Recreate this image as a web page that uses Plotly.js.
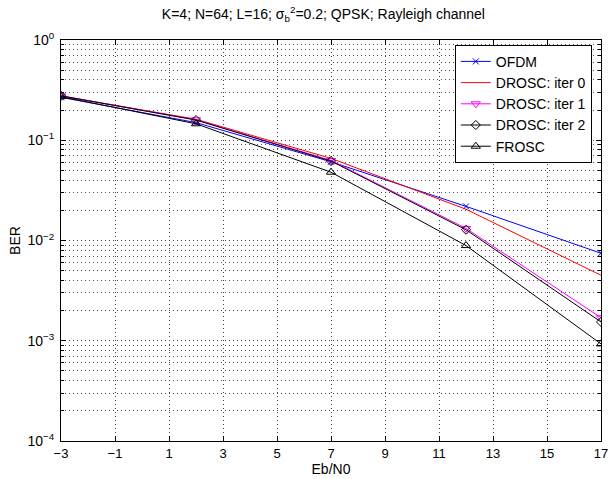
<!DOCTYPE html>
<html><head><meta charset="utf-8">
<script src="https://cdn.plot.ly/plotly-3.0.1.min.js"></script>
<style>html,body{margin:0;padding:0;background:#fff}#g{width:616px;height:479px}</style>
</head><body><div id="g"></div>
<script>
const ebn0 = [-3, 2, 7, 12, 17];
const ofdm = [0.268, 0.150, 0.061, 0.0219, 0.00746];
const iter0 = [0.277, 0.162, 0.066, 0.0205, 0.0045];
const iter1 = [0.277, 0.160, 0.063, 0.0132, 0.0017];
const iter2 = [0.277, 0.159, 0.062, 0.0128, 0.00154];
const frosc = [0.272, 0.146, 0.048, 0.0089, 0.00093];
const yTickVals = [1e-4, 1e-3, 1e-2, 1e-1, 1];
const yTickText = ['10<sup>−4</sup>', '10<sup>−3</sup>', '10<sup>−2</sup>', '10<sup>−1</sup>', '10<sup>0</sup>'];
const xTickVals = [-3, -1, 1, 3, 5, 7, 9, 11, 13, 15, 17];
const xTickText = ['−3', '−1', '1', '3', '5', '7', '9', '11', '13', '15', '17'];

const traces = [
  {x: ebn0, y: ofdm, name: 'OFDM', mode: 'lines+markers',
   line: {color: '#0000ff', width: 1},
   marker: {symbol: 'x-thin-open', size: 6, line: {color: '#0000ff', width: 1}}},
  {x: ebn0, y: iter0, name: 'DROSC: iter 0', mode: 'lines',
   line: {color: '#ff0000', width: 1}},
  {x: ebn0, y: iter1, name: 'DROSC: iter 1', mode: 'lines+markers',
   line: {color: '#ff00ff', width: 1},
   marker: {symbol: 'triangle-down-open', size: 8, color: '#ff00ff', line: {color: '#ff00ff', width: 1}}},
  {x: ebn0, y: iter2, name: 'DROSC: iter 2', mode: 'lines+markers',
   line: {color: '#000000', width: 1},
   marker: {symbol: 'diamond-open', size: 7, color: '#000000', line: {color: '#000000', width: 1}}},
  {x: ebn0, y: frosc, name: 'FROSC', mode: 'lines+markers',
   line: {color: '#000000', width: 1},
   marker: {symbol: 'triangle-up-open', size: 8, color: '#000000', line: {color: '#000000', width: 1}}}
];

const gridDash = '1px,3px';
const font = {family: 'Liberation Sans, Arial, sans-serif', size: 14, color: '#000'};
const layout = {
  width: 616, height: 479,
  margin: {l: 61, r: 15, t: 40, b: 38, pad: 0},
  paper_bgcolor: '#fff', plot_bgcolor: '#fff',
  font: font,
  showlegend: true,
  title: {text: 'K=4; N=64; L=16; σ<sub>b</sub><sup>2</sup>=0.2; QPSK; Rayleigh channel',
          font: {family: font.family, size: 14, color: '#000'}, x: 0.525, xanchor: 'center', y: 0.97, yanchor: 'middle'},
  xaxis: {
    range: [-3, 17], tickvals: xTickVals, ticktext: xTickText,
    ticks: 'inside', ticklen: 5, tickcolor: '#000', mirror: 'ticks',
    showline: true, linecolor: '#000', linewidth: 1,
    showgrid: true, gridcolor: '#444', griddash: gridDash, gridwidth: 1,
    zeroline: false, tickfont: {size: 13}, ticklabelstandoff: 0,
    title: {text: 'Eb/N0', font: {size: 14}, standoff: 1}
  },
  yaxis: {
    type: 'log', range: [-4, 0], tickvals: yTickVals, ticktext: yTickText,
    ticks: 'inside', ticklen: 5, tickcolor: '#000', mirror: 'ticks',
    showline: true, linecolor: '#000', linewidth: 1,
    showgrid: true, gridcolor: '#444', griddash: gridDash, gridwidth: 1,
    zeroline: false, tickfont: {size: 14}, ticklabelstandoff: 3,
    minor: {dtick: 'D1', ticks: 'inside', ticklen: 3, tickcolor: '#000',
            showgrid: true, gridcolor: '#555', griddash: gridDash, gridwidth: 1},
    title: {text: 'BER', font: {size: 14}, standoff: 3}
  },
  legend: {x: 0.983, xanchor: 'right', y: 0.988, yanchor: 'top',
           bgcolor: '#fff', bordercolor: '#000', borderwidth: 1,
           font: {size: 14}, tracegroupgap: 0, itemwidth: 30}
};
Plotly.newPlot('g', traces, layout, {displayModeBar: false, staticPlot: true});
</script></body></html>
